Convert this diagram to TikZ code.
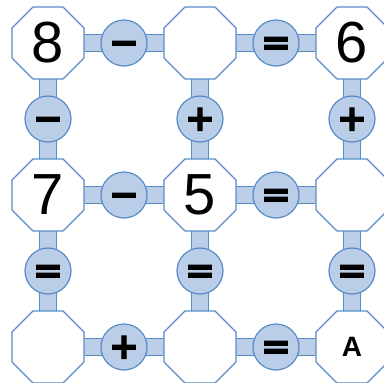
\documentclass[tikz,border=0pt]{standalone}
\usepackage{fontspec}
\setmainfont{Liberation Sans}
\newfontfamily\opfont{DejaVu Sans}[BoldFeatures={FakeBold=3}]
\usetikzlibrary{shapes.geometric,calc}
\definecolor{lineblue}{RGB}{88,140,200}
\definecolor{fillblue}{RGB}{186,206,232}
\tikzset{
  cell/.style={regular polygon, regular polygon sides=8, minimum size=78pt,
    inner sep=0pt, draw=lineblue, line width=1.2pt, fill=white,
    font=\fontsize{58}{58}\selectfont},
  op/.style={circle, minimum size=46pt, inner sep=0pt, draw=lineblue,
    line width=1.2pt, fill=fillblue, text height=23pt, text depth=0pt,
    font=\opfont\bfseries\fontsize{36}{36}\selectfont},
  barfill/.style={draw=lineblue, line width=1.1pt, fill=fillblue}
}
\newcommand{\myhbar}[2]{\path[barfill] ([yshift=8.5pt]#1.center) rectangle ([yshift=-8.5pt]#2.center);}
\newcommand{\myvbar}[2]{\path[barfill] ([xshift=-8.5pt]#1.center) rectangle ([xshift=8.5pt]#2.center);}
\begin{document}
\begin{tikzpicture}[x=1pt,y=-1pt]
\useasboundingbox (0,0) rectangle (384,383);
% anchor coordinates for grid
\coordinate (p11) at (48,43);  \coordinate (p12) at (200,43);  \coordinate (p13) at (352,43);
\coordinate (p21) at (48,195); \coordinate (p22) at (200,195); \coordinate (p23) at (352,195);
\coordinate (p31) at (48,347); \coordinate (p32) at (200,347); \coordinate (p33) at (352,347);
% bars
\myhbar{p11}{p12} \myhbar{p12}{p13}
\myhbar{p21}{p22} \myhbar{p22}{p23}
\myhbar{p31}{p32} \myhbar{p32}{p33}
\myvbar{p11}{p21} \myvbar{p21}{p31}
\myvbar{p12}{p22} \myvbar{p22}{p32}
\myvbar{p13}{p23} \myvbar{p23}{p33}
% cells
\node[cell] (c11) at (p11) {8};
\node[cell] (c12) at (p12) {};
\node[cell] (c13) at (p13) {6};
\node[cell] (c21) at (p21) {7};
\node[cell] (c22) at (p22) {5};
\node[cell] (c23) at (p23) {};
\node[cell] (c31) at (p31) {};
\node[cell] (c32) at (p32) {};
\node[cell, font=\bfseries\fontsize{28}{28}\selectfont] (c33) at (p33) {A};
% operators
\node[op] (h11) at ($(c11)!0.5!(c12)$) {−};
\node[op] (h12) at ($(c12)!0.5!(c13)$) {=};
\node[op] (h21) at ($(c21)!0.5!(c22)$) {−};
\node[op] (h22) at ($(c22)!0.5!(c23)$) {=};
\node[op] (h31) at ($(c31)!0.5!(c32)$) {+};
\node[op] (h32) at ($(c32)!0.5!(c33)$) {=};
\node[op] (v11) at ($(c11)!0.5!(c21)$) {−};
\node[op] (v21) at ($(c21)!0.5!(c31)$) {=};
\node[op] (v12) at ($(c12)!0.5!(c22)$) {+};
\node[op] (v22) at ($(c22)!0.5!(c32)$) {=};
\node[op] (v13) at ($(c13)!0.5!(c23)$) {+};
\node[op] (v23) at ($(c23)!0.5!(c33)$) {=};
\end{tikzpicture}
\end{document}
